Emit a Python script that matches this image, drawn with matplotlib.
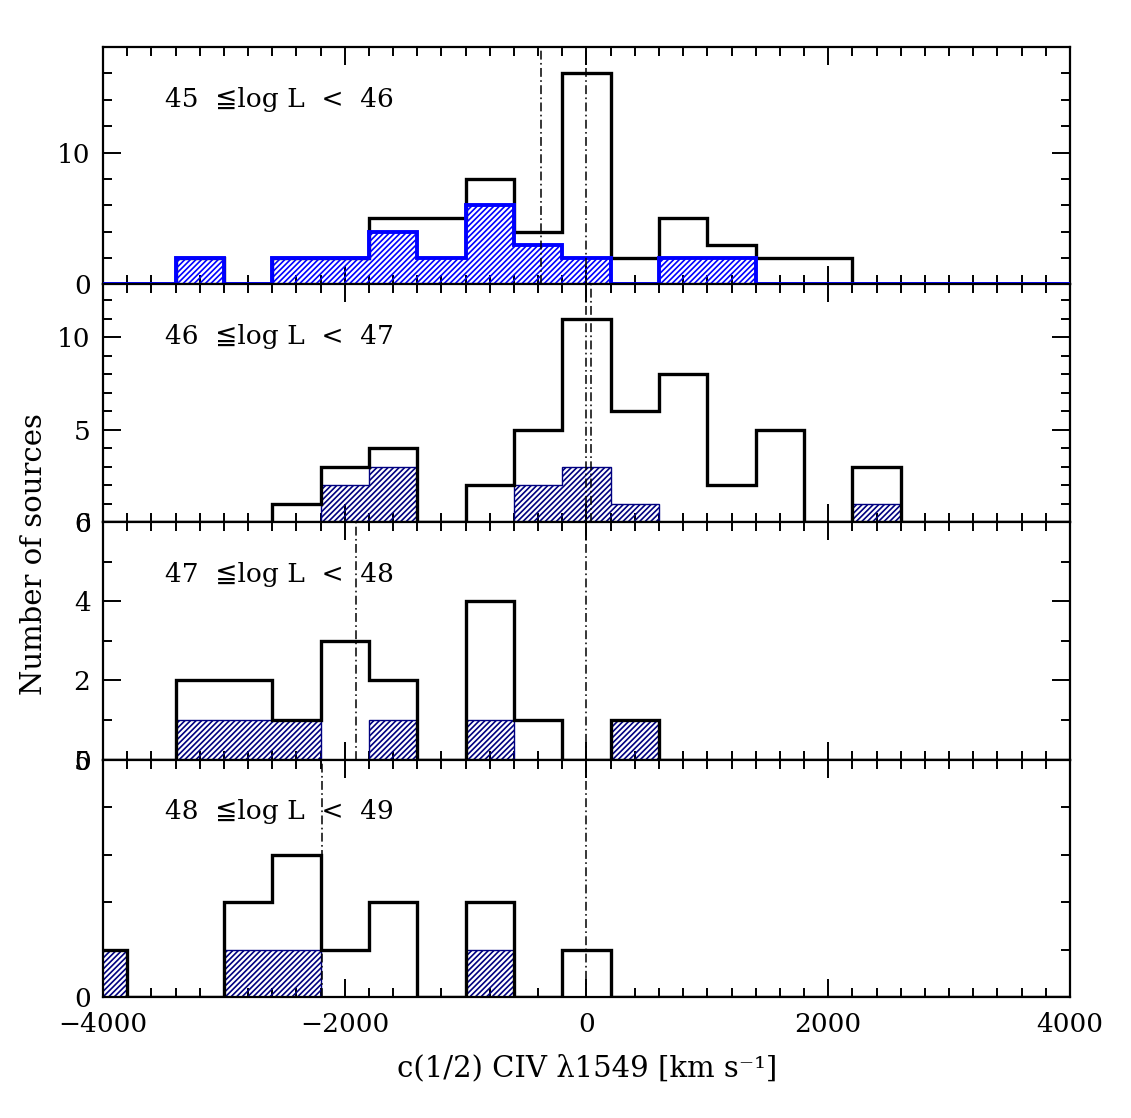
import numpy as np
import matplotlib.pyplot as plt
from matplotlib.ticker import MultipleLocator

plt.rcParams['font.family'] = ['DejaVu Serif', 'DejaVu Sans']
plt.rcParams['hatch.color'] = 'blue'
plt.rcParams['hatch.linewidth'] = 1.2

# bin edges, c(1/2) CIV in km/s
edges = np.arange(-4200, 4201, 400)

# counts per bin: all sources (black) and hatched subsample (blue)
all_45 = [0, 0, 2, 0, 2, 2, 5, 5, 8, 4, 16, 2, 5, 3, 2, 2, 0, 0, 0, 0, 0]
sub_45 = [0, 0, 2, 0, 2, 2, 4, 2, 6, 3, 2, 0, 2, 2, 0, 0, 0, 0, 0, 0, 0]
all_46 = [0, 0, 0, 0, 1, 3, 4, 0, 2, 5, 11, 6, 8, 2, 5, 0, 3, 0, 0, 0, 0]
sub_46 = [0, 0, 0, 0, 0, 2, 3, 0, 0, 2, 3, 1, 0, 0, 0, 0, 1, 0, 0, 0, 0]
all_47 = [0, 0, 2, 2, 1, 3, 2, 0, 4, 1, 0, 1, 0, 0, 0, 0, 0, 0, 0, 0, 0]
sub_47 = [0, 0, 1, 1, 1, 0, 1, 0, 1, 0, 0, 1, 0, 0, 0, 0, 0, 0, 0, 0, 0]
all_48 = [1, 0, 0, 2, 3, 1, 2, 0, 2, 0, 1, 0, 0, 0, 0, 0, 0, 0, 0, 0, 0]
sub_48 = [1, 0, 0, 1, 1, 0, 0, 0, 1, 0, 0, 0, 0, 0, 0, 0, 0, 0, 0, 0, 0]

# vertical dash-dot markers (km/s)
vlines_45 = [-380, 0]
vlines_46 = [0, 35]
vlines_47 = [-1910, 0]
vlines_48 = [-2190, 0]

labels = ["45  ≦log L  <  46", "46  ≦log L  <  47", "47  ≦log L  <  48", "48  ≦log L  <  49"]

all_counts = [all_45, all_46, all_47, all_48]
sub_counts = [sub_45, sub_46, sub_47, sub_48]
vlines = [vlines_45, vlines_46, vlines_47, vlines_48]
ymax = [18, 12.85, 6, 5]
ymajor = [10, 5, 2, 5]
yminor = [2, 1, 1, 1]

fig = plt.figure(figsize=(11.31, 11.18), dpi=100)
gs = fig.add_gridspec(4, 1, left=0.0911, right=0.946, bottom=0.1082, top=0.958, hspace=0)

dd = (0, (5.8, 2.2, 1.1, 2.2))

for i in range(4):
    ax = fig.add_subplot(gs[i])
    a = np.array(all_counts[i], dtype=float)
    s = np.array(sub_counts[i], dtype=float)

    if i == 0:
        # thick bright-blue outline drawn over the black histogram
        ax.stairs(a, edges, color='k', lw=2.4, zorder=2)
        ax.stairs(s, edges, fill=True, facecolor='none', linewidth=0, hatch='//////', zorder=3)
        ax.stairs(s, edges, color='blue', lw=2.8, zorder=4)
    else:
        ax.stairs(np.where(s > 0, s, np.nan), edges, fill=True, facecolor='none',
                  edgecolor='#000080', linewidth=1.0, hatch='//////', zorder=2)
        ax.stairs(a, edges, color='k', lw=2.4, zorder=3)

    for v in vlines[i]:
        ax.axvline(v, color='k', lw=1.1, linestyle=dd, zorder=5)

    ax.text(0.064, 0.78, labels[i], transform=ax.transAxes, fontsize=19, va='center', ha='left')

    ax.set_xlim(-4000, 4000)
    ax.set_ylim(0, ymax[i])
    ax.xaxis.set_major_locator(MultipleLocator(2000))
    ax.xaxis.set_minor_locator(MultipleLocator(200))
    ax.yaxis.set_major_locator(MultipleLocator(ymajor[i]))
    ax.yaxis.set_minor_locator(MultipleLocator(yminor[i]))
    ax.tick_params(which='both', direction='in', top=True, right=True, width=1.4, labelsize=19)
    ax.tick_params(which='major', length=13)
    ax.tick_params(which='minor', length=6.5)
    ax.tick_params(axis='y', pad=9)
    for sp in ax.spines.values():
        sp.set_linewidth(1.6)
    if i < 3:
        ax.tick_params(labelbottom=False)
    else:
        ax.tick_params(axis='x', pad=11)

fig.text(0.519, 0.0447, "c(1/2) CIV λ1549 [km s⁻¹]", fontsize=21, ha='center', va='center')
fig.text(0.03, 0.504, "Number of sources", fontsize=21, rotation=90, ha='center', va='center')

fig.savefig("out.png", dpi=100)
